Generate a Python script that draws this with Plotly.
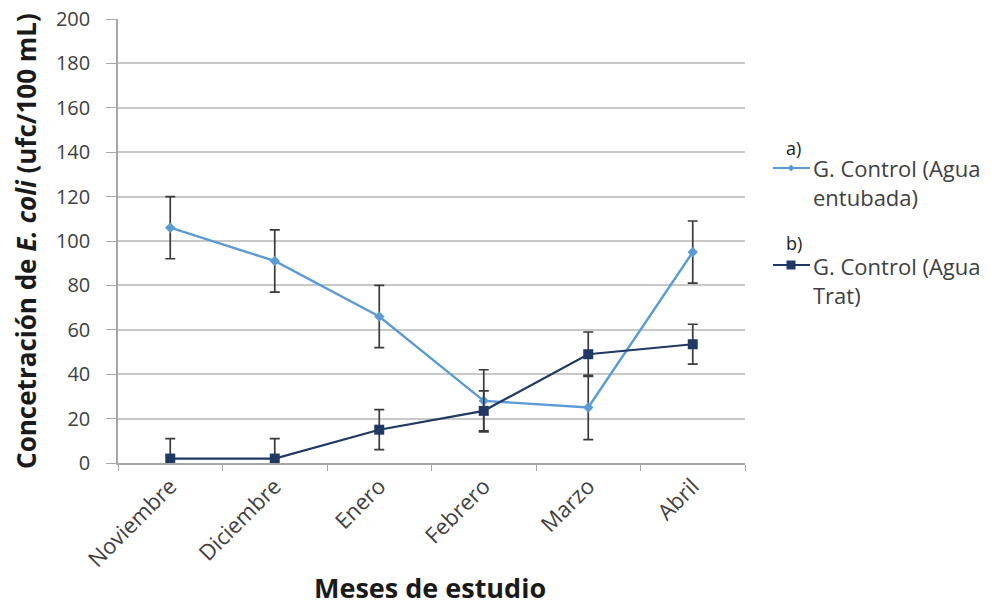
import plotly.graph_objects as go

meses = ["Noviembre", "Diciembre", "Enero", "Febrero", "Marzo", "Abril"]

entubada = [106, 91, 66, 28, 25, 95]
entubada_err = [14, 14, 14, 14, 14.5, 14]

tratada = [2, 2, 15, 23.5, 49, 53.5]
tratada_err = [9, 9, 9, 9, 10, 9]

y_ticks = [0, 20, 40, 60, 80, 100, 120, 140, 160, 180, 200]

FONT = "Open Sans"
LIGHT = "#5B9BD5"
DARK = "#1F3864"
ERR = "#3A3A3A"
TXT = "#404040"

# plot area in pixels (margins)
L, R, T, B = 118, 250, 19, 143
W, H = 995, 606
PW, PH = W - L - R, H - T - B


def px(x):
    return (x - L) / PW


def py(y):
    return (H - B - y) / PH


fig = go.Figure()

fig.add_trace(go.Scatter(
    x=meses, y=entubada, mode="lines+markers",
    name="G. Control (Agua entubada)",
    line=dict(color=LIGHT, width=2.4),
    marker=dict(symbol="diamond", size=8, color=LIGHT),
    error_y=dict(type="data", array=entubada_err, visible=True,
                 color=ERR, thickness=1.7, width=5),
))

fig.add_trace(go.Scatter(
    x=meses, y=tratada, mode="lines+markers",
    name="G. Control (Agua Trat)",
    line=dict(color=DARK, width=2.2),
    marker=dict(symbol="square", size=10, color=DARK),
    error_y=dict(type="data", array=tratada_err, visible=True,
                 color=ERR, thickness=1.7, width=5),
))

# hand-drawn legend: line samples with their markers
shapes = []
for (yy, col) in [(168, LIGHT), (265, DARK)]:
    shapes.append(dict(type="line", xref="paper", yref="paper",
                       x0=px(773), x1=px(810), y0=py(yy), y1=py(yy),
                       line=dict(color=col, width=2)))
# diamond marker for the first entry
cx, cy, r = 791, 168, 3.5
shapes.append(dict(
    type="path", xref="paper", yref="paper",
    path=(f"M {px(cx)},{py(cy - r)} L {px(cx + r)},{py(cy)} "
          f"L {px(cx)},{py(cy + r)} L {px(cx - r)},{py(cy)} Z"),
    fillcolor=LIGHT, line=dict(color=LIGHT, width=0)))
# square marker for the second entry
cx, cy, r = 791, 265, 4.5
shapes.append(dict(type="rect", xref="paper", yref="paper",
                   x0=px(cx - r), x1=px(cx + r), y0=py(cy + r), y1=py(cy - r),
                   fillcolor=DARK, line=dict(color=DARK, width=0)))


def label(text, x, y, size=22, color=TXT, anchor="left"):
    return dict(text=text, xref="paper", yref="paper", x=px(x), y=py(y),
                xanchor=anchor, yanchor="middle", align="left", showarrow=False,
                font=dict(family=FONT, size=size, color=color))


annotations = [
    label("a)", 784, 148, 18, "#1a1a1a"),
    label("G. Control (Agua<br>entubada)", 811, 182),
    label("b)", 784, 243, 18, "#1a1a1a"),
    label("G. Control (Agua<br>Trat)", 811, 280),
    label("<b>Meses de estudio</b>", 430, 587, 27, "#1a1a1a", "center"),
]

fig.update_layout(
    width=W, height=H,
    margin=dict(l=L, r=R, t=T, b=B),
    plot_bgcolor="white", paper_bgcolor="white",
    font=dict(family=FONT, size=17, color=TXT),
    showlegend=False,
    shapes=shapes,
    annotations=annotations,
    xaxis=dict(
        type="category", categoryorder="array", categoryarray=meses,
        range=[-0.5, 5.5], automargin=False,
        showgrid=False, showline=True, linecolor="#A6A6A6", linewidth=1.5,
        ticks="outside", tickson="boundaries", ticklen=6, tickcolor="#A6A6A6",
        tickangle=-45, tickfont=dict(family=FONT, size=22, color=TXT),
    ),
    yaxis=dict(
        range=[0, 200], tickvals=y_ticks, automargin=False,
        showgrid=True, gridcolor="#C8C8C8", gridwidth=2,
        showline=True, linecolor="#A6A6A6", linewidth=1.5,
        ticks="outside", ticklen=10, tickcolor="#A6A6A6",
        ticklabelstandoff=12,
        zeroline=False,
        tickfont=dict(family=FONT, size=20, color=TXT),
        title=dict(text="<b>Concetración de <i>E. coli</i> (ufc/100 mL)</b>",
                   font=dict(family=FONT, size=26, color="#1a1a1a"), standoff=12),
    ),
)

fig.write_html("out.html")
